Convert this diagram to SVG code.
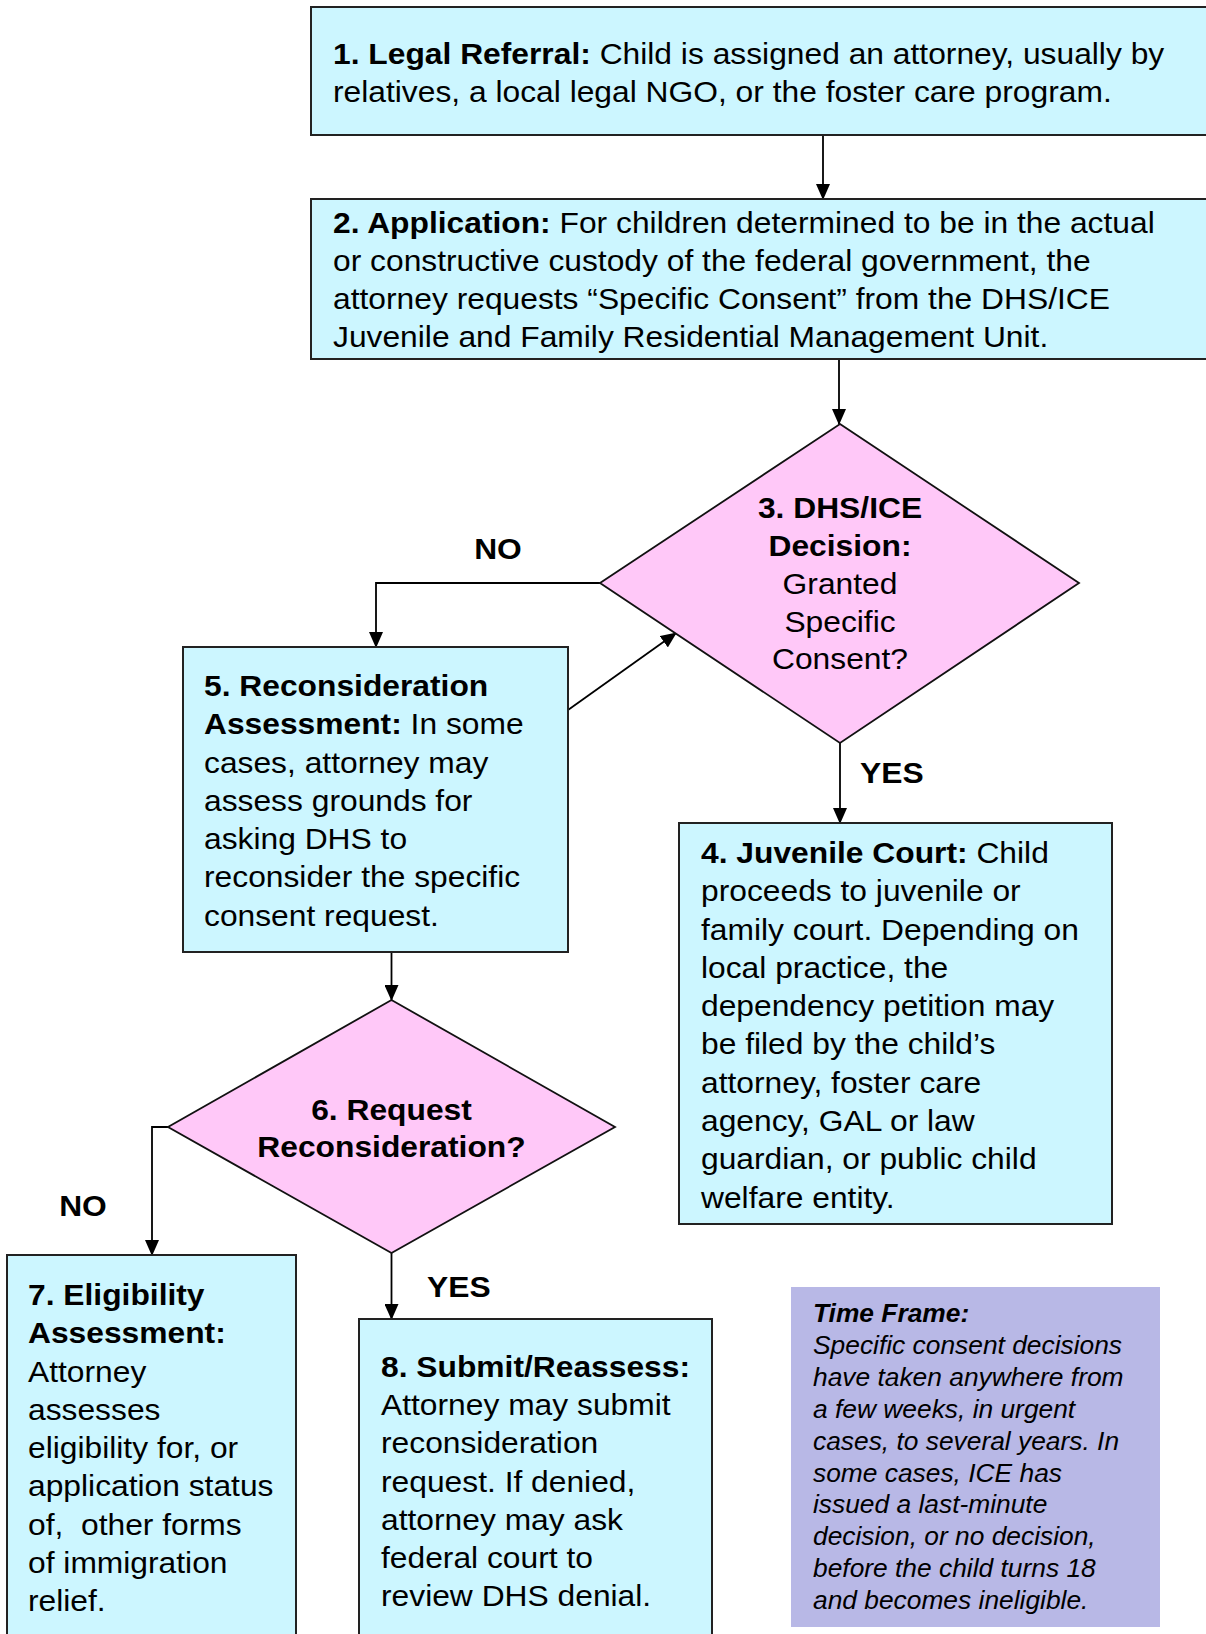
<svg xmlns="http://www.w3.org/2000/svg" width="1206" height="1634" viewBox="0 0 1206 1634">
<style>
.box{fill:#CCF6FF;stroke:#222;stroke-width:2}
.dia{fill:#FFC8F8;stroke:#111;stroke-width:1.8}
.note{fill:#B8B8E6}
.t{font-family:"Liberation Sans",Arial,sans-serif;font-size:29.7px;fill:#000}
.c{text-anchor:middle}
.b{font-weight:bold}
.n{font-family:"Liberation Sans",Arial,sans-serif;font-size:25.6px;font-style:italic;fill:#000}
.ln{fill:none;stroke:#000;stroke-width:1.8}
</style>
<defs>
<marker id="ah" markerWidth="16" markerHeight="14" refX="15" refY="7" orient="auto" markerUnits="userSpaceOnUse">
<path d="M0,0 L16,7 L0,14 z" fill="#000"/>
</marker>
</defs>
<rect width="1206" height="1634" fill="#fff"/>
<g id="connectors">
<path class="ln" d="M823,135 V199" marker-end="url(#ah)"/>
<path class="ln" d="M839,359 V424" marker-end="url(#ah)"/>
<path class="ln" d="M600,583 H376 V647" marker-end="url(#ah)"/>
<path class="ln" d="M840,743 V823" marker-end="url(#ah)"/>
<path class="ln" d="M568,710 L676,633" marker-end="url(#ah)"/>
<path class="ln" d="M391.5,952 V1000" marker-end="url(#ah)"/>
<path class="ln" d="M168,1127 H152 V1255" marker-end="url(#ah)"/>
<path class="ln" d="M391.5,1253 V1319" marker-end="url(#ah)"/>
<g transform="translate(498,0) scale(1.07,1)"><text class="t b c" x="0" y="559">NO</text></g>
<g transform="translate(860,0) scale(1.07,1)"><text class="t b" x="0" y="783">YES</text></g>
<g transform="translate(83,0) scale(1.07,1)"><text class="t b c" x="0" y="1216">NO</text></g>
<g transform="translate(427,0) scale(1.07,1)"><text class="t b" x="0" y="1297">YES</text></g>
</g>
<g id="n1">
<rect class="box" x="311" y="7" width="910" height="128"/>
<g transform="translate(333,0) scale(1.07,1)">
<text class="t" x="0" y="64"><tspan class="b">1. Legal Referral:</tspan> Child is assigned an attorney, usually by</text>
<text class="t" x="0" y="102">relatives, a local legal NGO, or the foster care program.</text>
</g>
</g>
<g id="n2">
<rect class="box" x="311" y="199" width="910" height="160"/>
<g transform="translate(333,0) scale(1.07,1)">
<text class="t" x="0" y="233.5"><tspan class="b">2. Application:</tspan> For children determined to be in the actual</text>
<text class="t" x="0" y="271.5">or constructive custody of the federal government, the</text>
<text class="t" x="0" y="309.3">attorney requests “Specific Consent” from the DHS/ICE</text>
<text class="t" x="0" y="347">Juvenile and Family Residential Management Unit.</text>
</g>
</g>
<g id="n3">
<polygon class="dia" points="840,424 1079,583 840,743 600,583"/>
<g transform="translate(840,0) scale(1.07,1)">
<text class="t b c" x="0" y="518">3. DHS/ICE</text>
<text class="t b c" x="0" y="556">Decision:</text>
<text class="t c" x="0" y="594">Granted</text>
<text class="t c" x="0" y="632">Specific</text>
<text class="t c" x="0" y="669">Consent?</text>
</g>
</g>
<g id="n4">
<rect class="box" x="679" y="823" width="433" height="401"/>
<g transform="translate(701,0) scale(1.07,1)">
<text class="t" x="0" y="863"><tspan class="b">4. Juvenile Court:</tspan> Child</text>
<text class="t" x="0" y="901.3">proceeds to juvenile or</text>
<text class="t" x="0" y="939.6">family court. Depending on</text>
<text class="t" x="0" y="977.9">local practice, the</text>
<text class="t" x="0" y="1016.2">dependency petition may</text>
<text class="t" x="0" y="1054.5">be filed by the child’s</text>
<text class="t" x="0" y="1092.8">attorney, foster care</text>
<text class="t" x="0" y="1131.1">agency, GAL or law</text>
<text class="t" x="0" y="1169.4">guardian, or public child</text>
<text class="t" x="0" y="1207.7">welfare entity.</text>
</g>
</g>
<g id="n5">
<rect class="box" x="183" y="647" width="385" height="305"/>
<g transform="translate(204,0) scale(1.07,1)">
<text class="t b" x="0" y="696">5. Reconsideration</text>
<text class="t" x="0" y="734.3"><tspan class="b">Assessment:</tspan> In some</text>
<text class="t" x="0" y="772.6">cases, attorney may</text>
<text class="t" x="0" y="810.9">assess grounds for</text>
<text class="t" x="0" y="849.2">asking DHS to</text>
<text class="t" x="0" y="887.5">reconsider the specific</text>
<text class="t" x="0" y="925.8">consent request.</text>
</g>
</g>
<g id="n6">
<polygon class="dia" points="391.5,1000 615,1127 391.5,1253 168,1127"/>
<g transform="translate(391.5,0) scale(1.07,1)">
<text class="t b c" x="0" y="1120">6. Request</text>
<text class="t b c" x="0" y="1157">Reconsideration?</text>
</g>
</g>
<g id="n7">
<rect class="box" x="7" y="1255" width="289" height="400"/>
<g transform="translate(28,0) scale(1.07,1)">
<text class="t b" x="0" y="1305">7. Eligibility</text>
<text class="t b" x="0" y="1343.3">Assessment:</text>
<text class="t" x="0" y="1381.6">Attorney</text>
<text class="t" x="0" y="1419.9">assesses</text>
<text class="t" x="0" y="1458.2">eligibility for, or</text>
<text class="t" x="0" y="1496.5">application status</text>
<text class="t" x="0" y="1534.8" xml:space="preserve">of,  other forms</text>
<text class="t" x="0" y="1573.1">of immigration</text>
<text class="t" x="0" y="1611.4">relief.</text>
</g>
</g>
<g id="n8">
<rect class="box" x="359" y="1319" width="353" height="340"/>
<g transform="translate(381,0) scale(1.07,1)">
<text class="t b" x="0" y="1377">8. Submit/Reassess:</text>
<text class="t" x="0" y="1415.2">Attorney may submit</text>
<text class="t" x="0" y="1453.4">reconsideration</text>
<text class="t" x="0" y="1491.6">request. If denied,</text>
<text class="t" x="0" y="1529.8">attorney may ask</text>
<text class="t" x="0" y="1568">federal court to</text>
<text class="t" x="0" y="1606.2">review DHS denial.</text>
</g>
</g>
<g id="timeframe">
<rect class="note" x="791" y="1287" width="369" height="340"/>
<g transform="translate(813,0) scale(1.03,1)">
<text class="n b" x="0" y="1322.3">Time Frame:</text>
<text class="n" x="0" y="1354.2">Specific consent decisions</text>
<text class="n" x="0" y="1386">have taken anywhere from</text>
<text class="n" x="0" y="1417.9">a few weeks, in urgent</text>
<text class="n" x="0" y="1449.7">cases, to several years. In</text>
<text class="n" x="0" y="1481.6">some cases, ICE has</text>
<text class="n" x="0" y="1513.5">issued a last-minute</text>
<text class="n" x="0" y="1545.3">decision, or no decision,</text>
<text class="n" x="0" y="1577.2">before the child turns 18</text>
<text class="n" x="0" y="1609">and becomes ineligible.</text>
</g>
</g>
</svg>
